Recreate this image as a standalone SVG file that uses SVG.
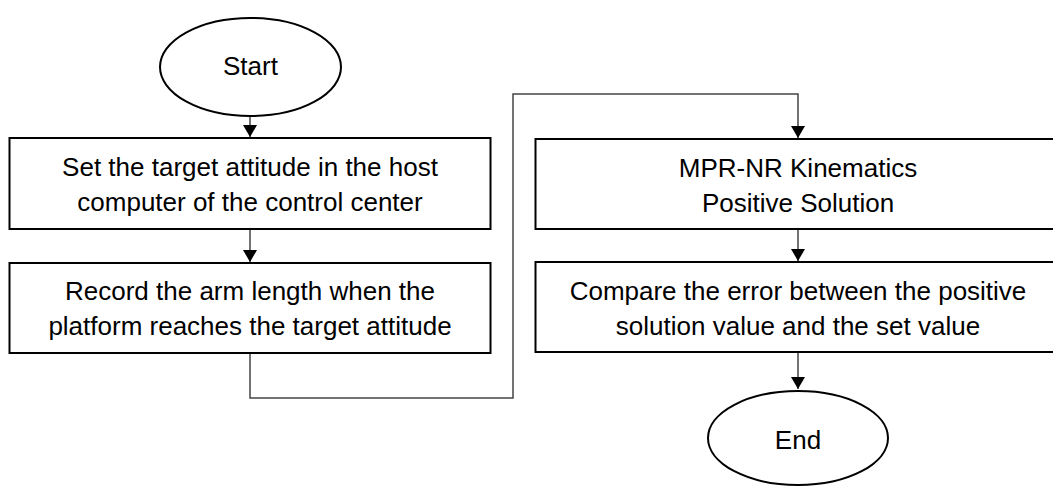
<svg xmlns="http://www.w3.org/2000/svg" width="1053" height="486" viewBox="0 0 1053 486">
<style>
.node{fill:#fff;stroke:#000;stroke-width:2}
.t{font-family:"Liberation Sans",Arial,sans-serif;font-size:26px;fill:#000;text-anchor:middle}
.c{fill:none;stroke:#444;stroke-width:1.5}
</style>
<defs>
<marker id="arr" markerWidth="12" markerHeight="14" refX="12" refY="7" orient="auto" markerUnits="userSpaceOnUse">
<path d="M0,0 L12,7 L0,14 Z" fill="#000"/>
</marker>
</defs>
<rect width="1053" height="486" fill="#fff"/>
<g id="connectors">
<line class="c" x1="250" y1="116" x2="250" y2="137" marker-end="url(#arr)"/>
<line class="c" x1="250" y1="229" x2="250" y2="262" marker-end="url(#arr)"/>
<polyline class="c" points="250,353 250,398 513,398 513,94 798,94 798,138" marker-end="url(#arr)"/>
<line class="c" x1="798" y1="229" x2="798" y2="261" marker-end="url(#arr)"/>
<line class="c" x1="798" y1="352" x2="798" y2="389" marker-end="url(#arr)"/>
</g>
<g id="start">
<ellipse class="node" cx="250.5" cy="67" rx="90.5" ry="49"/>
<text class="t" x="250.5" y="75">Start</text>
</g>
<g id="set-target">
<rect class="node" x="9.5" y="138" width="481" height="91"/>
<text class="t" x="250" y="176">Set the target attitude in the host</text>
<text class="t" x="250" y="211">computer of the control center</text>
</g>
<g id="record">
<rect class="node" x="9.5" y="263" width="481" height="90"/>
<text class="t" x="250" y="300">Record the arm length when the</text>
<text class="t" x="250" y="335">platform reaches the target attitude</text>
</g>
<g id="mpr-nr">
<rect class="node" x="535.5" y="139" width="526" height="90"/>
<text class="t" x="798" y="177">MPR-NR Kinematics</text>
<text class="t" x="798" y="212">Positive Solution</text>
</g>
<g id="compare">
<rect class="node" x="535.5" y="262" width="526" height="90"/>
<text class="t" x="798" y="300">Compare the error between the positive</text>
<text class="t" x="798" y="335">solution value and the set value</text>
</g>
<g id="end">
<ellipse class="node" cx="798" cy="438" rx="90" ry="47"/>
<text class="t" x="798" y="449">End</text>
</g>
</svg>
